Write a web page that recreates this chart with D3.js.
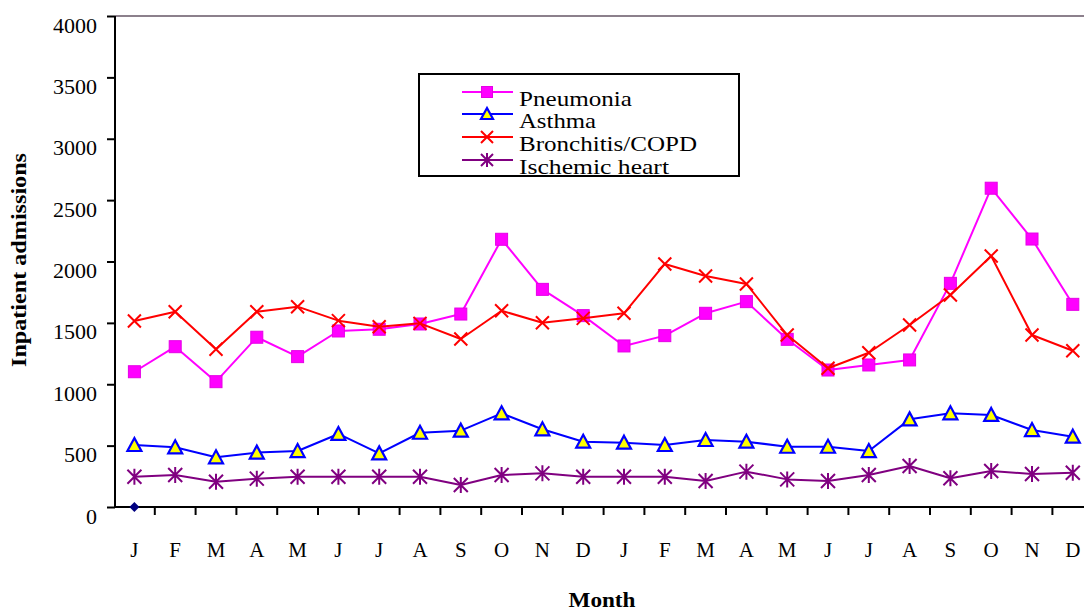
<!DOCTYPE html>
<html>
<head>
<meta charset="utf-8">
<script src="https://cdn.jsdelivr.net/npm/d3@7"></script>
<style>
  html, body { margin: 0; padding: 0; background: #fff; }
  svg { display: block; }
  svg text { font-family: "Liberation Serif", "Times New Roman", serif !important; fill: #000; }
</style>
</head>
<body>
<svg id="chart" width="1084" height="612"></svg>
<script>
// ---------------- data ----------------
const months = ["J","F","M","A","M","J","J","A","S","O","N","D","J","F","M","A","M","J","J","A","S","O","N","D"];
const yTicks = [0, 500, 1000, 1500, 2000, 2500, 3000, 3500, 4000];
const pneumonia = [1102,1306,1021,1383,1225,1434,1448,1491,1572,2181,1773,1559,1312,1396,1578,1673,1366,1116,1157,1198,1822,2597,2183,1651];
const asthma    = [505,486,405,443,456,595,437,605,622,763,633,532,524,505,546,532,491,491,456,714,763,750,627,573];
const bronchitis= [1515,1591,1285,1591,1632,1518,1469,1496,1369,1599,1501,1537,1578,1980,1882,1817,1401,1130,1257,1483,1727,2045,1401,1273];
const ischemic  = [247,261,206,231,247,247,247,247,179,261,274,247,247,247,212,288,225,212,261,334,234,293,269,279];
const strayPoint = [0]; // lone marker at first month on the zero line
const seriesNames = ["Pneumonia","Asthma","Bronchitis/COPD","Ischemic heart"];

// ---------------- setup ----------------
const svg = d3.select("#chart");
const x = d3.scaleBand().domain(d3.range(months.length)).range([114, 114 + 24 * 40.8]).paddingInner(0).paddingOuter(0);
const y = d3.scaleLinear().domain([0, 4000]).range([507, 16]);
const cx = i => x(i) + x.bandwidth() / 2;

// top border
svg.append("line").attr("x1", 115).attr("x2", 1084).attr("y1", 16).attr("y2", 16)
  .attr("stroke", "#8c808c").attr("stroke-width", 2);

// y axis
const yAxis = d3.axisLeft(y).tickValues(yTicks).tickSize(8).tickPadding(10).tickFormat(d3.format("d"));
const gy = svg.append("g").attr("transform", "translate(115,0)").call(yAxis);
gy.attr("font-family", null).attr("font-size", null);
gy.select(".domain").attr("stroke", "#000").attr("stroke-width", 2).attr("d", "M0,16V507");
gy.selectAll(".tick line").attr("stroke", "#000").attr("stroke-width", 2);
gy.selectAll(".tick text").attr("font-size", 22)
  .attr("dy", "0.73em").attr("x", -18);

// x axis line and ticks at band boundaries
svg.append("line").attr("x1", 114).attr("x2", 1084).attr("y1", 507).attr("y2", 507)
  .attr("stroke", "#000").attr("stroke-width", 2);
svg.append("g").selectAll("line").data(d3.range(1, months.length)).join("line")
  .attr("x1", d => x(d)).attr("x2", d => x(d)).attr("y1", 507).attr("y2", 515)
  .attr("stroke", "#000").attr("stroke-width", 2);
svg.append("g").selectAll("text").data(months).join("text")
  .attr("x", (d, i) => cx(i)).attr("y", 557).attr("text-anchor", "middle")
  .attr("font-size", 21).text(d => d);

// axis titles
svg.append("text").attr("transform", "translate(26,260) rotate(-90)")
  .attr("text-anchor", "middle").attr("font-weight", "bold").attr("font-size", 20)
  .attr("textLength", 214).attr("lengthAdjust", "spacingAndGlyphs")
  .text("Inpatient admissions");
svg.append("text").attr("x", 602).attr("y", 607).attr("text-anchor", "middle")
  .attr("font-weight", "bold").attr("font-size", 20)
  .attr("textLength", 67).attr("lengthAdjust", "spacingAndGlyphs")
  .text("Month");

// ---------------- markers ----------------
function drawMarker(g, type, px, py, s) {
  const h = s / 2;
  if (type === "square") {
    g.append("rect").attr("x", px - h).attr("y", py - h).attr("width", s).attr("height", s)
      .attr("fill", "#ff00ff").attr("stroke", "#e600e6").attr("stroke-width", 1);
  } else if (type === "triangle") {
    g.append("path").attr("d", `M${px},${py - h - 1}L${px + h + 1},${py + h}L${px - h - 1},${py + h}Z`)
      .attr("fill", "#ffff00").attr("stroke", "#0000ff").attr("stroke-width", 2.2).attr("stroke-linejoin", "miter");
  } else if (type === "x") {
    g.append("path").attr("d", `M${px - h},${py - h}L${px + h},${py + h}M${px - h},${py + h}L${px + h},${py - h}`)
      .attr("stroke", "#ff0000").attr("stroke-width", 2);
  } else if (type === "star") {
    g.append("path").attr("d", `M${px - h},${py - h}L${px + h},${py + h}M${px - h},${py + h}L${px + h},${py - h}M${px},${py - h - 1}L${px},${py + h + 1}`)
      .attr("stroke", "#800080").attr("stroke-width", 2);
  }
}

const series = [
  { name: seriesNames[3], values: ischemic,  color: "#800080", marker: "star",     size: 14 },
  { name: seriesNames[1], values: asthma,    color: "#0000ff", marker: "triangle", size: 12 },
  { name: seriesNames[0], values: pneumonia, color: "#ff00ff", marker: "square",   size: 12 },
  { name: seriesNames[2], values: bronchitis,color: "#ff0000", marker: "x",        size: 13 }
];

const line = d3.line().x((d, i) => cx(i)).y(d => y(d));
series.forEach(s => {
  const g = svg.append("g");
  g.append("path").datum(s.values).attr("d", line).attr("fill", "none")
    .attr("stroke", s.color).attr("stroke-width", 2).attr("stroke-linejoin", "round");
  s.values.forEach((v, i) => drawMarker(g, s.marker, cx(i), y(v), s.size));
});

// stray navy diamond
strayPoint.forEach((v, i) => {
  const px = cx(i), py = y(v), r = 5;
  svg.append("path").attr("d", `M${px},${py - r}L${px + r},${py}L${px},${py + r}L${px - r},${py}Z`)
    .attr("fill", "#000080");
});

// ---------------- legend ----------------
const legendBox = { x: 419, y: 74, w: 320, h: 102 };
svg.append("defs").append("clipPath").attr("id", "legclip")
  .append("rect").attr("x", legendBox.x).attr("y", legendBox.y).attr("width", legendBox.w).attr("height", legendBox.h);
const leg = svg.append("g");
leg.append("rect").attr("x", legendBox.x).attr("y", legendBox.y).attr("width", legendBox.w).attr("height", legendBox.h)
  .attr("fill", "#fff").attr("stroke", "none");
const legItems = [
  { name: seriesNames[0], color: "#ff00ff", marker: "square",   size: 11, ly: 92,  len: 113 },
  { name: seriesNames[1], color: "#0000ff", marker: "triangle", size: 10, ly: 114, len: 77 },
  { name: seriesNames[2], color: "#ff0000", marker: "x",        size: 12, ly: 137, len: 178 },
  { name: seriesNames[3], color: "#800080", marker: "star",     size: 12, ly: 160, len: 150 }
];
const legText = leg.append("g").attr("clip-path", "url(#legclip)");
legItems.forEach(it => {
  leg.append("line").attr("x1", 462).attr("x2", 513).attr("y1", it.ly).attr("y2", it.ly)
    .attr("stroke", it.color).attr("stroke-width", 2);
  drawMarker(leg, it.marker, 487, it.ly, it.size);
  legText.append("text").attr("x", 519).attr("y", it.ly + 14).attr("font-size", 22)
    .attr("textLength", it.len).attr("lengthAdjust", "spacingAndGlyphs").text(it.name);
});
leg.append("rect").attr("x", legendBox.x).attr("y", legendBox.y).attr("width", legendBox.w).attr("height", legendBox.h)
  .attr("fill", "none").attr("stroke", "#000").attr("stroke-width", 2);
</script>
</body>
</html>
